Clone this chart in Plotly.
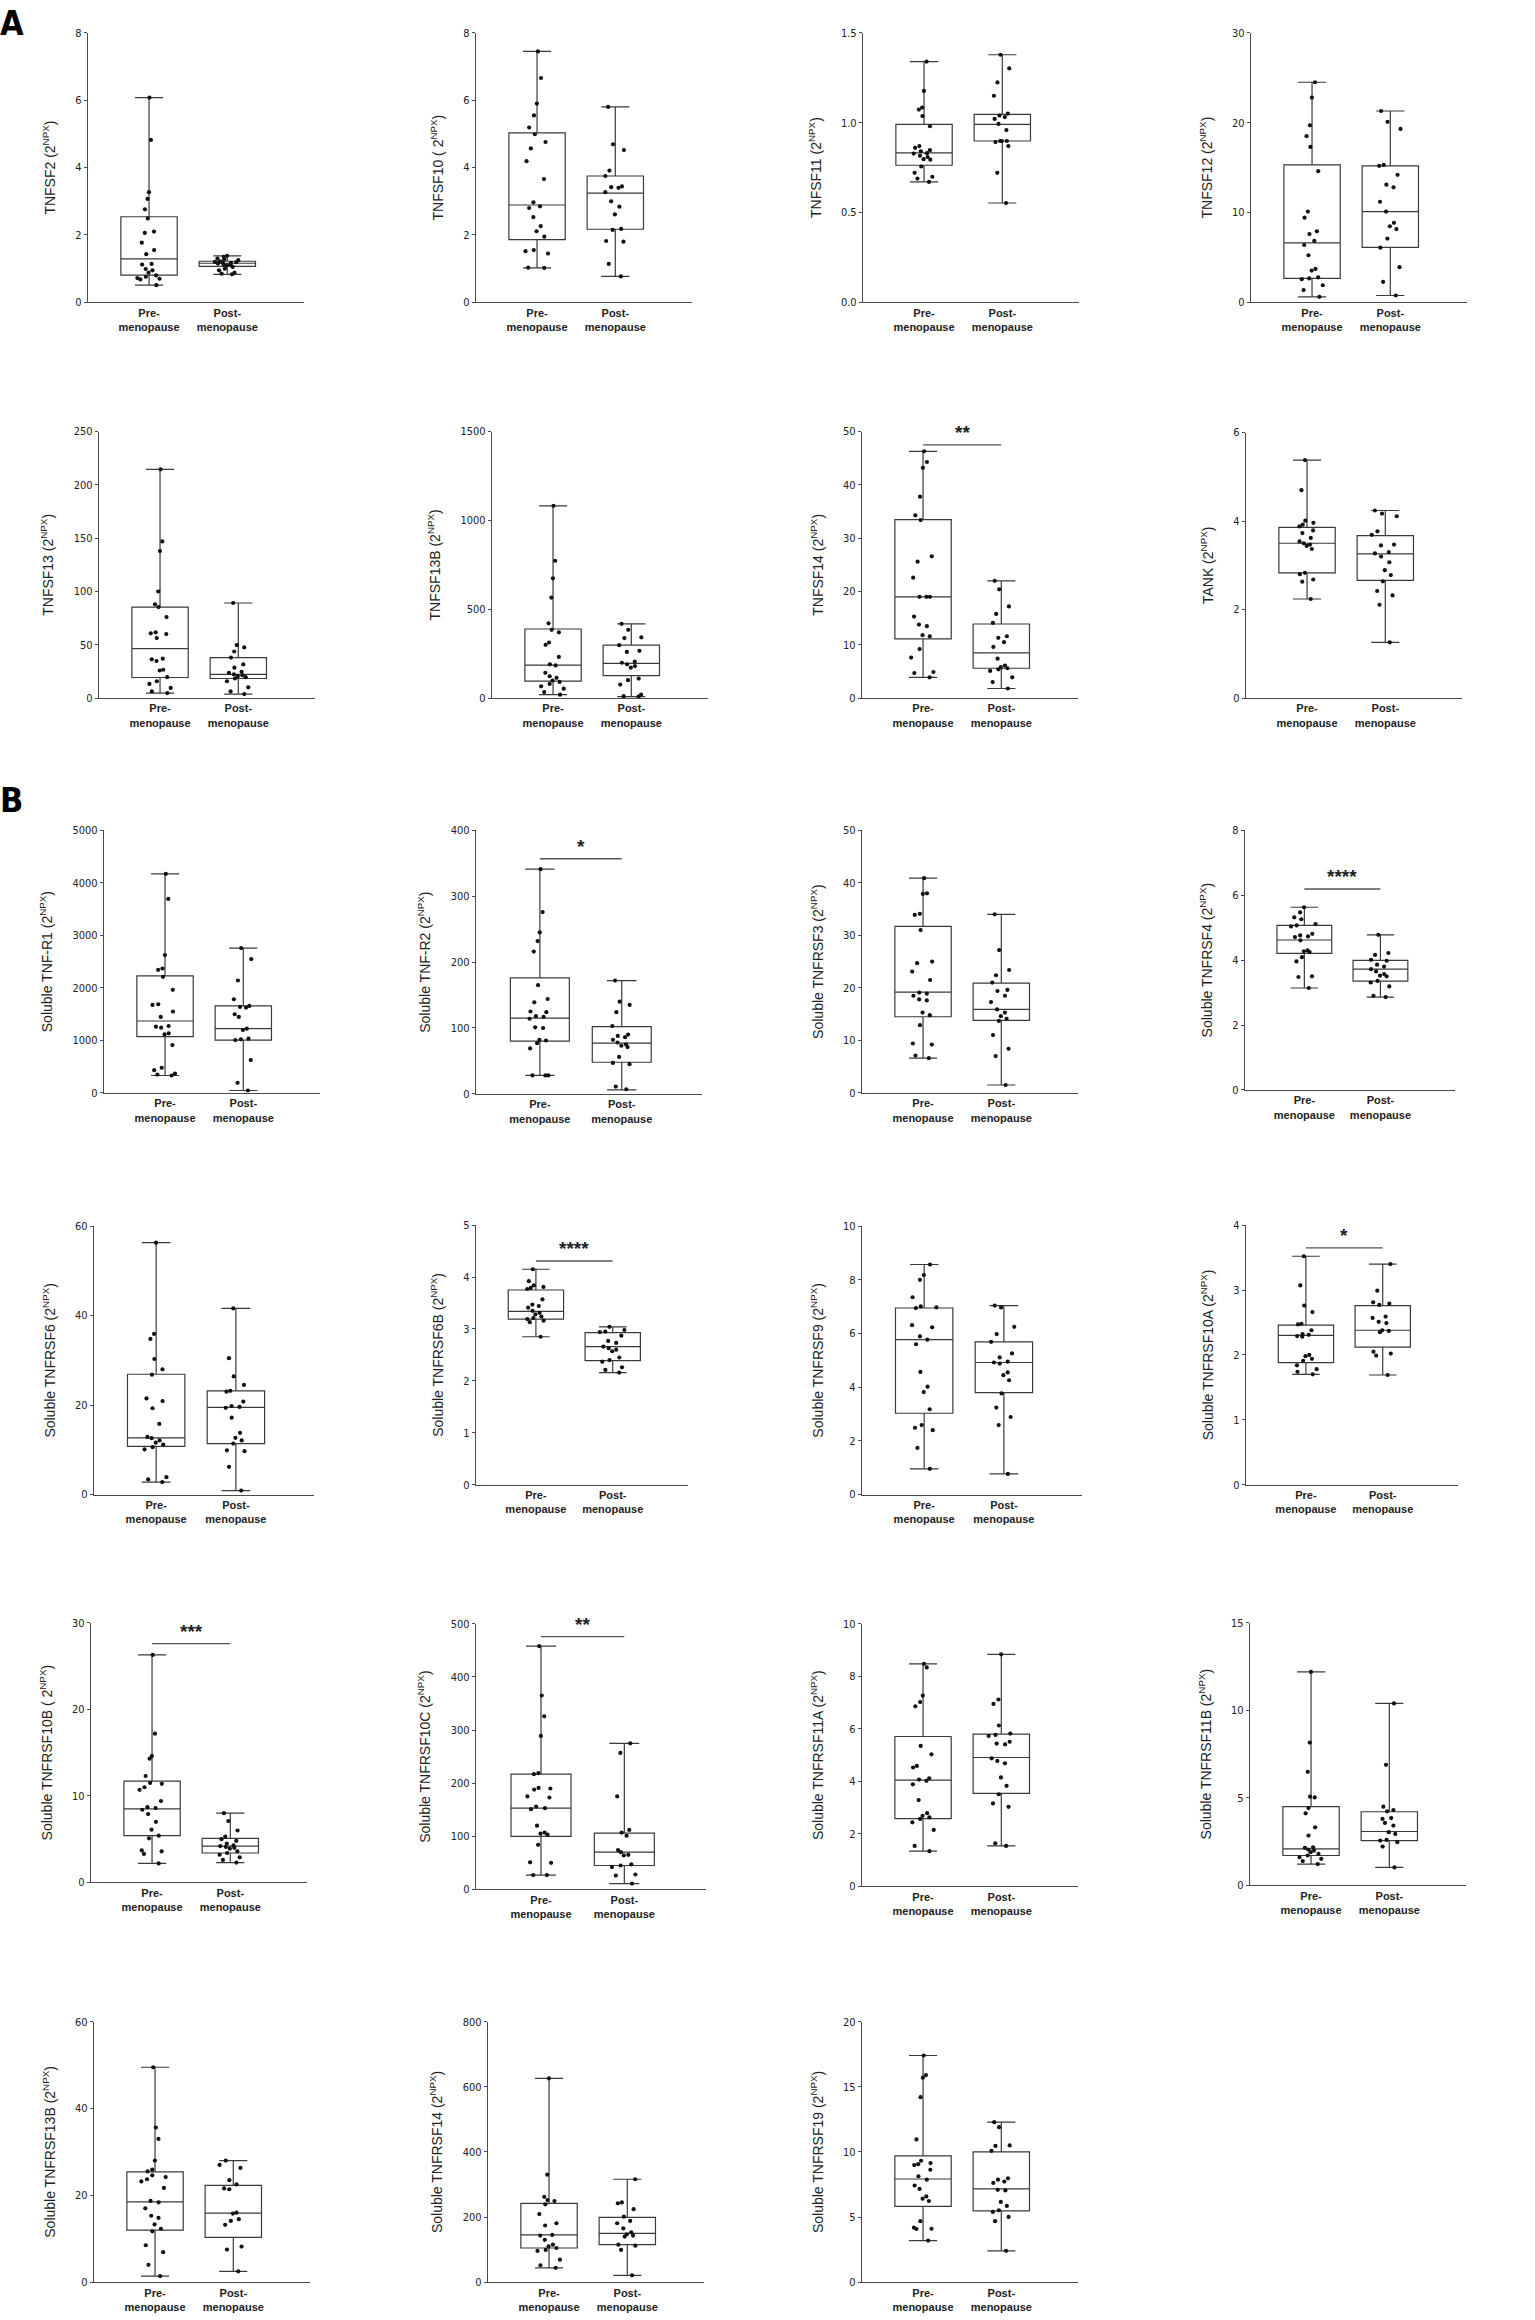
import plotly.graph_objects as go

# Values, all in 2^NPX units.
# *_box lists hold [min, q1, median, q3, max]; the other lists are the single samples.

tnfsf2_pre_box = [0.51, 0.81, 1.29, 2.54, 6.08]
tnfsf2_post_box = [0.83, 1.07, 1.16, 1.22, 1.38]
tnfsf2_pre = [6.08, 4.82, 3.27, 3.07, 2.76, 2.49, 2.10, 2.06, 1.77, 1.55, 1.43, 1.14, 1.12,
              0.99, 0.95, 0.88, 0.80, 0.76, 0.72, 0.70, 0.68, 0.51]
tnfsf2_post = [1.38, 1.35, 1.30, 1.28, 1.25, 1.22, 1.20, 1.19, 1.18, 1.17, 1.15, 1.13, 1.12,
               1.10, 1.05, 1.00, 0.95, 0.88, 0.85, 0.83]

tnfsf10_pre_box = [1.02, 1.86, 2.89, 5.03, 7.45]
tnfsf10_post_box = [0.77, 2.17, 3.24, 3.75, 5.80]
tnfsf10_pre = [7.45, 6.66, 5.90, 5.55, 5.19, 4.99, 4.76, 4.57, 4.19, 3.66, 2.97, 2.85, 2.80,
               2.53, 2.26, 2.11, 1.95, 1.55, 1.52, 1.45, 1.03, 1.02]
tnfsf10_post = [5.80, 4.69, 4.52, 3.91, 3.75, 3.44, 3.42, 3.40, 3.27, 3.00, 2.84, 2.61, 2.18,
                2.15, 1.82, 1.80, 1.14, 0.77]

tnfsf11_pre_box = [0.670, 0.763, 0.832, 0.991, 1.340]
tnfsf11_post_box = [0.553, 0.898, 0.991, 1.046, 1.378]
tnfsf11_pre = [1.340, 1.177, 1.084, 1.073, 1.037, 0.980, 0.870, 0.860, 0.847, 0.841, 0.830,
               0.828, 0.816, 0.809, 0.797, 0.794, 0.756, 0.721, 0.699, 0.689, 0.670]
tnfsf11_post = [1.378, 1.302, 1.224, 1.150, 1.050, 1.040, 1.031, 1.021, 0.993, 0.959, 0.898,
                0.898, 0.898, 0.892, 0.870, 0.721, 0.553]

tnfsf12_pre_box = [0.61, 2.66, 6.61, 15.3, 24.5]
tnfsf12_post_box = [0.76, 6.11, 10.1, 15.2, 21.3]
tnfsf12_pre = [24.5, 22.8, 19.7, 18.5, 17.3, 14.6, 10.1, 9.42, 7.9, 7.6, 6.84, 6.38, 5.24, 3.72,
               3.53, 2.77, 2.66, 2.58, 1.9, 1.37, 0.61]
tnfsf12_post = [21.3, 20.1, 19.3, 15.3, 15.2, 14.2, 13.1, 12.8, 11.2, 10.1, 8.85, 8.47, 8.16,
                7.1, 6.08, 3.91, 2.28, 0.76]

tnfsf13_pre_box = [4.7, 19.3, 46.5, 85.4, 214.6]
tnfsf13_post_box = [3.8, 18.4, 22.2, 38.0, 89.2]
tnfsf13_pre = [214.6, 147, 138, 100, 88, 85.4, 76, 61.7, 60.8, 60.1, 56.3, 37, 36.4, 34.8, 26.6,
               25.9, 19.6, 15.8, 13.3, 9.5, 6.3, 4.7]
tnfsf13_post = [89.2, 49.7, 47.5, 43.7, 38, 31.6, 28.5, 24.7, 23.7, 22.2, 21.5, 20.6, 19.6,
                18.4, 15.8, 10.1, 6.3, 3.8]

tnfsf13b_pre_box = [19, 95, 186, 389, 1082]
tnfsf13b_post_box = [8, 127, 196, 298, 418]
tnfsf13b_pre = [1082, 773, 674, 566, 421, 384, 370, 313, 300, 232, 190, 184, 142, 123, 114, 99,
                91, 80, 66, 53, 34, 19]
tnfsf13b_post = [418, 384, 342, 338, 298, 266, 260, 205, 199, 190, 180, 171, 110, 101, 76, 19,
                 11, 8]

tnfsf14_pre_box = [3.9, 11.1, 19.0, 33.5, 46.3]
tnfsf14_post_box = [1.8, 5.6, 8.5, 13.9, 22.0]
tnfsf14_pre = [46.3, 44.3, 43.2, 37.8, 34.3, 33.4, 26.6, 25.6, 22.6, 19.0, 19.0, 19.0, 15.3,
               13.8, 13.5, 11.8, 11.6, 9.2, 7.6, 4.9, 4.7, 3.9]
tnfsf14_post = [22.0, 20.4, 17.2, 15.8, 14.1, 11.6, 11.3, 10.5, 9.6, 7.4, 6.1, 5.8, 5.6, 5.4,
                5.1, 3.9, 3.0, 1.8]

tank_pre_box = [2.24, 2.83, 3.50, 3.86, 5.38]
tank_post_box = [1.26, 2.66, 3.26, 3.67, 4.24]
tank_pre = [5.38, 4.70, 4.01, 3.96, 3.92, 3.88, 3.79, 3.73, 3.62, 3.54, 3.50, 3.47, 3.44, 3.37,
            2.83, 2.80, 2.68, 2.63, 2.24]
tank_post = [4.24, 4.17, 4.11, 3.77, 3.69, 3.47, 3.45, 3.30, 3.27, 3.20, 3.07, 2.89, 2.78, 2.64,
             2.42, 2.32, 2.11, 1.26]

tnfr1_pre_box = [331, 1070, 1369, 2229, 4172]
tnfr1_post_box = [45, 1006, 1223, 1656, 2758]
tnfr1_pre = [4172, 3694, 2624, 2369, 2344, 2210, 1962, 1688, 1675, 1548, 1446, 1274, 1261, 1242,
             1134, 1115, 911, 478, 433, 369, 350, 331]
tnfr1_post = [2758, 2548, 2140, 1783, 1656, 1637, 1624, 1497, 1446, 1223, 1197, 1032, 1019, 1006,
              624, 191, 45]

tnfr2_pre_box = [28, 80, 115, 176, 341]
tnfr2_post_box = [6, 48, 77, 102, 172]
tnfr2_pre = [341, 276, 245, 232, 216, 165, 144, 139, 125, 124, 118, 117, 114, 101, 100, 82, 81,
             77, 69, 28, 28, 28]
tnfr2_post = [172, 140, 135, 124, 103, 90, 88, 86, 82, 78, 75, 73, 71, 56, 47, 45, 11, 7]

tnfrsf3_pre_box = [6.6, 14.5, 19.2, 31.7, 40.9]
tnfrsf3_post_box = [1.5, 13.8, 15.9, 20.9, 34.0]
tnfrsf3_pre = [40.9, 38.0, 37.9, 34.1, 33.9, 31.0, 25.0, 24.7, 23.1, 21.5, 19.1, 18.9, 18.5,
               17.8, 17.6, 15.3, 14.8, 12.9, 9.4, 9.2, 7.1, 6.6]
tnfrsf3_post = [34.0, 27.2, 23.4, 22.4, 21.0, 19.6, 19.4, 18.5, 17.3, 15.9, 15.3, 14.6, 14.1,
                13.7, 11.0, 8.4, 7.0, 1.5]

tnfrsf4_pre_box = [3.14, 4.21, 4.62, 5.07, 5.63]
tnfrsf4_post_box = [2.86, 3.35, 3.72, 3.99, 4.78]
tnfrsf4_pre = [5.63, 5.47, 5.32, 5.26, 5.11, 5.07, 5.04, 4.81, 4.76, 4.73, 4.71, 4.61, 4.30,
               4.27, 4.25, 4.09, 3.96, 3.50, 3.48, 3.14]
tnfrsf4_post = [4.78, 4.22, 4.16, 4.01, 3.98, 3.86, 3.80, 3.72, 3.65, 3.57, 3.52, 3.50, 3.36,
                3.31, 3.19, 2.90, 2.86]

tnfrsf6_pre_box = [2.8, 10.8, 12.7, 26.9, 56.3]
tnfrsf6_post_box = [0.9, 11.4, 19.5, 23.2, 41.6]
tnfrsf6_pre = [56.3, 35.9, 34.8, 30.3, 28.0, 26.8, 21.5, 20.9, 19.3, 15.8, 12.9, 12.6, 12.1,
               11.6, 11.2, 10.6, 10.1, 3.9, 3.4, 2.8]
tnfrsf6_post = [41.6, 30.5, 26.4, 24.5, 23.2, 23.0, 20.8, 19.8, 19.6, 19.4, 17.2, 13.8, 12.7,
                12.1, 11.4, 9.9, 9.7, 6.2, 0.9]

tnfrsf6b_pre_box = [2.85, 3.19, 3.34, 3.75, 4.15]
tnfrsf6b_post_box = [2.16, 2.39, 2.66, 2.93, 3.04]
tnfrsf6b_pre = [4.15, 3.92, 3.84, 3.81, 3.79, 3.77, 3.57, 3.47, 3.44, 3.41, 3.35, 3.31, 3.28,
                3.24, 3.21, 3.19, 3.16, 3.13, 2.85]
tnfrsf6b_post = [3.04, 2.98, 2.95, 2.94, 2.87, 2.77, 2.73, 2.66, 2.63, 2.60, 2.57, 2.45, 2.40,
                 2.37, 2.26, 2.21, 2.16]

tnfrsf9_pre_box = [0.96, 3.03, 5.77, 6.95, 8.57]
tnfrsf9_post_box = [0.77, 3.80, 4.92, 5.69, 7.04]
tnfrsf9_pre = [8.57, 8.18, 8.00, 7.35, 7.01, 6.97, 6.95, 6.31, 6.23, 5.89, 5.77, 5.60, 4.57,
               4.02, 3.82, 3.18, 2.59, 2.49, 2.40, 1.74, 0.96]
tnfrsf9_post = [7.04, 6.97, 6.25, 5.98, 5.69, 5.26, 5.11, 4.95, 4.92, 4.88, 4.55, 4.45, 4.26,
                3.77, 3.24, 2.89, 2.59, 0.77]

tnfrsf10a_pre_box = [1.70, 1.88, 2.30, 2.46, 3.52]
tnfrsf10a_post_box = [1.69, 2.12, 2.38, 2.76, 3.40]
tnfrsf10a_pre = [3.52, 3.07, 2.76, 2.66, 2.48, 2.47, 2.38, 2.32, 2.31, 2.29, 2.28, 2.00, 1.98,
                 1.94, 1.91, 1.84, 1.78, 1.74, 1.70]
tnfrsf10a_post = [3.40, 2.99, 2.81, 2.79, 2.77, 2.59, 2.57, 2.51, 2.49, 2.38, 2.37, 2.35, 2.05,
                  2.02, 1.99, 1.69]

tnfrsf10b_pre_box = [2.2, 5.4, 8.5, 11.7, 26.3]
tnfrsf10b_post_box = [2.3, 3.4, 4.2, 5.1, 8.0]
tnfrsf10b_pre = [26.3, 17.2, 14.6, 14.3, 12.3, 11.5, 11.4, 11.0, 10.7, 9.4, 8.7, 8.6, 8.4, 7.9,
                 7.0, 6.1, 5.4, 5.1, 3.7, 3.6, 3.3, 2.2]
tnfrsf10b_post = [8.0, 7.1, 6.0, 5.3, 5.0, 4.8, 4.5, 4.3, 4.2, 4.1, 4.0, 3.9, 3.6, 3.4, 3.2, 2.9,
                  2.6, 2.3]

tnfrsf10c_pre_box = [27, 100, 153, 217, 458]
tnfrsf10c_post_box = [11, 45, 70, 106, 275]
tnfrsf10c_pre = [458, 365, 326, 289, 219, 217, 191, 190, 188, 175, 173, 156, 153, 151, 120, 107,
                 105, 103, 84, 51, 50, 27, 27]
tnfrsf10c_post = [275, 257, 175, 112, 107, 101, 74, 70, 65, 64, 47, 45, 42, 28, 26, 11]

tnfrsf11a_pre_box = [1.34, 2.58, 4.05, 5.71, 8.48]
tnfrsf11a_post_box = [1.54, 3.54, 4.91, 5.80, 8.84]
tnfrsf11a_pre = [8.48, 8.34, 7.27, 7.02, 6.86, 5.35, 5.03, 4.59, 4.53, 4.12, 4.07, 4.02, 3.89,
                 3.29, 2.79, 2.69, 2.63, 2.57, 2.44, 2.15, 1.54, 1.34]
tnfrsf11a_post = [8.84, 7.12, 6.95, 6.13, 5.82, 5.77, 5.73, 5.51, 5.44, 5.41, 4.88, 4.78, 4.69,
                  4.15, 3.83, 3.51, 3.16, 3.03, 1.64, 1.54]

tnfrsf11b_pre_box = [1.22, 1.71, 2.09, 4.50, 12.2]
tnfrsf11b_post_box = [1.03, 2.56, 3.08, 4.21, 10.4]
tnfrsf11b_pre = [12.2, 8.16, 6.49, 5.07, 5.03, 4.42, 4.12, 3.32, 2.85, 2.18, 2.15, 2.05, 1.99,
                 1.90, 1.80, 1.71, 1.61, 1.52, 1.39, 1.22]
tnfrsf11b_post = [10.4, 6.89, 4.50, 4.31, 4.23, 3.85, 3.80, 3.57, 3.42, 3.04, 2.94, 2.60, 2.56,
                  2.47, 2.22, 1.03]

tnfrsf13b_pre_box = [1.4, 12.0, 18.5, 25.4, 49.5]
tnfrsf13b_post_box = [2.5, 10.3, 15.9, 22.3, 28.0]
tnfrsf13b_pre = [49.5, 35.6, 33.0, 28.0, 25.9, 25.5, 24.6, 24.2, 23.7, 23.2, 21.7, 18.7, 18.4,
                 17.0, 15.3, 14.8, 13.3, 12.3, 11.7, 8.5, 6.9, 4.0, 1.4]
tnfrsf13b_post = [28.0, 27.0, 26.3, 23.5, 22.5, 21.6, 21.4, 16.0, 15.8, 14.5, 14.1, 13.2, 8.2,
                  7.5, 2.5]

tnfrsf14_pre_box = [44, 105, 145, 242, 626]
tnfrsf14_post_box = [21, 115, 150, 199, 316]
tnfrsf14_pre = [626, 330, 262, 252, 249, 239, 209, 181, 174, 145, 143, 130, 115, 110, 105, 99,
                96, 69, 52, 44]
tnfrsf14_post = [316, 245, 242, 224, 201, 188, 181, 165, 153, 147, 143, 140, 115, 112, 99, 21]

tnfrsf19_pre_box = [3.19, 5.82, 7.92, 9.70, 17.4]
tnfrsf19_post_box = [2.41, 5.47, 7.16, 10.0, 12.28]
tnfrsf19_pre = [17.4, 15.9, 15.7, 14.2, 10.96, 9.32, 9.14, 9.06, 8.99, 8.63, 8.13, 7.87, 7.42,
                7.16, 6.58, 6.41, 6.23, 4.68, 4.18, 4.10, 4.08, 3.19]
tnfrsf19_post = [12.28, 11.9, 10.5, 10.46, 10.08, 7.97, 7.87, 7.72, 7.62, 7.09, 7.04, 6.16,
                 5.85, 5.52, 5.39, 5.01, 4.68, 2.41]

groups = ["<b>Pre-</b><br><b>menopause</b>", "<b>Post-</b><br><b>menopause</b>"]
npx = "(2<sup>NPX</sup>)"

# (y-axis title, axis max, tick step, pre box, post box, pre points, post points)
panels = [
    ("TNFSF2 " + npx, 8, 2, tnfsf2_pre_box, tnfsf2_post_box, tnfsf2_pre, tnfsf2_post),
    ("TNFSF10 ( 2<sup>NPX</sup>)", 8, 2, tnfsf10_pre_box, tnfsf10_post_box, tnfsf10_pre, tnfsf10_post),
    ("TNFSF11 " + npx, 1.5, 0.5, tnfsf11_pre_box, tnfsf11_post_box, tnfsf11_pre, tnfsf11_post),
    ("TNFSF12 " + npx, 30, 10, tnfsf12_pre_box, tnfsf12_post_box, tnfsf12_pre, tnfsf12_post),
    ("TNFSF13 " + npx, 250, 50, tnfsf13_pre_box, tnfsf13_post_box, tnfsf13_pre, tnfsf13_post),
    ("TNFSF13B " + npx, 1500, 500, tnfsf13b_pre_box, tnfsf13b_post_box, tnfsf13b_pre, tnfsf13b_post),
    ("TNFSF14 " + npx, 50, 10, tnfsf14_pre_box, tnfsf14_post_box, tnfsf14_pre, tnfsf14_post),
    ("TANK " + npx, 6, 2, tank_pre_box, tank_post_box, tank_pre, tank_post),
    ("Soluble TNF-R1 " + npx, 5000, 1000, tnfr1_pre_box, tnfr1_post_box, tnfr1_pre, tnfr1_post),
    ("Soluble TNF-R2 " + npx, 400, 100, tnfr2_pre_box, tnfr2_post_box, tnfr2_pre, tnfr2_post),
    ("Soluble TNFRSF3 " + npx, 50, 10, tnfrsf3_pre_box, tnfrsf3_post_box, tnfrsf3_pre, tnfrsf3_post),
    ("Soluble TNFRSF4 " + npx, 8, 2, tnfrsf4_pre_box, tnfrsf4_post_box, tnfrsf4_pre, tnfrsf4_post),
    ("Soluble TNFRSF6 " + npx, 60, 20, tnfrsf6_pre_box, tnfrsf6_post_box, tnfrsf6_pre, tnfrsf6_post),
    ("Soluble TNFRSF6B " + npx, 5, 1, tnfrsf6b_pre_box, tnfrsf6b_post_box, tnfrsf6b_pre, tnfrsf6b_post),
    ("Soluble TNFRSF9 " + npx, 10, 2, tnfrsf9_pre_box, tnfrsf9_post_box, tnfrsf9_pre, tnfrsf9_post),
    ("Soluble TNFRSF10A " + npx, 4, 1, tnfrsf10a_pre_box, tnfrsf10a_post_box, tnfrsf10a_pre, tnfrsf10a_post),
    ("Soluble TNFRSF10B ( 2<sup>NPX</sup>)", 30, 10, tnfrsf10b_pre_box, tnfrsf10b_post_box, tnfrsf10b_pre, tnfrsf10b_post),
    ("Soluble TNFRSF10C " + npx, 500, 100, tnfrsf10c_pre_box, tnfrsf10c_post_box, tnfrsf10c_pre, tnfrsf10c_post),
    ("Soluble TNFRSF11A " + npx, 10, 2, tnfrsf11a_pre_box, tnfrsf11a_post_box, tnfrsf11a_pre, tnfrsf11a_post),
    ("Soluble TNFRSF11B " + npx, 15, 5, tnfrsf11b_pre_box, tnfrsf11b_post_box, tnfrsf11b_pre, tnfrsf11b_post),
    ("Soluble TNFRSF13B " + npx, 60, 20, tnfrsf13b_pre_box, tnfrsf13b_post_box, tnfrsf13b_pre, tnfrsf13b_post),
    ("Soluble TNFRSF14 " + npx, 800, 200, tnfrsf14_pre_box, tnfrsf14_post_box, tnfrsf14_pre, tnfrsf14_post),
    ("Soluble TNFRSF19 " + npx, 20, 5, tnfrsf19_pre_box, tnfrsf19_post_box, tnfrsf19_pre, tnfrsf19_post),
]

# significance bars: panel index -> (stars, bar height in data units)
sig_marks = {6: ("**", 47.5), 9: ("*", 357), 11: ("****", 6.19), 13: ("****", 4.31),
             15: ("*", 3.65), 16: ("***", 27.6), 17: ("**", 476)}

# plot rectangles in page pixels: (left, axis length, top, bottom)
W, H = 1535, 2320
cols = [88, 476, 863, 1251]
rects = [
    (cols[0], 216, 27, 298), (cols[1], 216, 27, 298), (cols[2], 216, 27, 298), (cols[3], 216, 27, 298),
    (cols[0] + 11, 216, 428, 696), (cols[1] + 16, 216, 428, 696), (cols[2] - 1, 216, 428, 696), (cols[3] - 5, 216, 429, 696),
    (cols[0] + 16, 216, 829, 1093), (cols[1], 226, 829, 1094), (cols[2] - 1, 216, 829, 1093), (cols[3] - 6, 210, 829, 1090),
    (cols[0] + 6, 220, 1227, 1497), (cols[1], 212, 1226, 1487), (cols[2] - 1, 220, 1227, 1497), (cols[3] - 5, 212, 1226, 1487),
    (cols[0] + 3, 216, 1626, 1887), (cols[1], 230, 1627, 1894), (cols[2] - 1, 216, 1627, 1891), (cols[3] - 1, 216, 1626, 1890),
    (cols[0] + 6, 216, 2027, 2289), (cols[1] + 12, 216, 2027, 2289), (cols[2] - 1, 216, 2027, 2289),
]

narrow = "Liberation Sans Narrow, DejaVu Sans Condensed, Arial Narrow, Liberation Sans, sans-serif"
plain = "Liberation Sans, Arial, sans-serif"
axis_col = "#4a4a4a"
box_col = "#3a3a3a"

fig = go.Figure()

for i, (title, ymax, step, pre_box, post_box, pre_pts, post_pts) in enumerate(panels):
    n = "" if i == 0 else str(i + 1)
    xa, ya = "x" + n, "y" + n
    stats = list(zip(pre_box, post_box))  # min, q1, med, q3, max for both groups

    fig.add_trace(go.Box(
        x=[0, 1], lowerfence=list(stats[0]), q1=list(stats[1]), median=list(stats[2]),
        q3=list(stats[3]), upperfence=list(stats[4]),
        width=0.72, whiskerwidth=0.5, fillcolor="white",
        line=dict(color=box_col, width=1.2), boxpoints=False,
        xaxis=xa, yaxis=ya, showlegend=False, hoverinfo="skip"
    ))
    for pos, pts in ((0, pre_pts), (1, post_pts)):
        fig.add_trace(go.Box(
            y=pts, x0=pos, width=0.72, boxpoints="all", jitter=0.5, pointpos=0,
            fillcolor="rgba(0,0,0,0)", line=dict(width=0, color="rgba(0,0,0,0)"),
            marker=dict(size=4.2, color="#111111"),
            xaxis=xa, yaxis=ya, showlegend=False, hoverinfo="y"
        ))

    left, length, top, bottom = rects[i]
    fig.layout["xaxis" + n] = dict(
        domain=[left / W, (left + length) / W], anchor=ya, range=[-0.78, 1.98],
        tickvals=[0, 1], ticktext=groups, ticks="", tickangle=0,
        showline=True, linecolor=axis_col, linewidth=1.3,
        showgrid=False, zeroline=False, fixedrange=True,
        tickfont=dict(family=plain, size=11, color="#222222")
    )
    fig.layout["yaxis" + n] = dict(
        domain=[1 - bottom / H, 1 - top / H], anchor=xa, range=[0, ymax],
        tick0=0, dtick=step, tickformat=".1f" if step < 1 else "d",
        ticks="outside", ticklen=3, tickcolor=axis_col, showline=True,
        linecolor=axis_col, linewidth=1.3, showgrid=False, zeroline=False,
        tickfont=dict(family=narrow, size=11, color="#222222"),
        title=dict(text=title, standoff=16, font=dict(family=plain, size=14, color="#222222"))
    )

    if i in sig_marks:
        stars, level = sig_marks[i]
        fig.add_shape(type="line", xref=xa, yref=ya, x0=0, x1=1, y0=level, y1=level,
                      line=dict(color="#555555", width=1.4))
        fig.add_annotation(x=0.5, y=level, xref=xa, yref=ya, text="<b>" + stars + "</b>",
                           showarrow=False, yanchor="bottom", yshift=0,
                           font=dict(family=plain, size=19, color="#222222"))

# panel letters
for letter, ypix in (("A", -5), ("B", 776)):
    fig.add_annotation(x=0, y=1 - ypix / H, xref="paper", yref="paper", text="<b>" + letter + "</b>",
                       showarrow=False, xanchor="left", yanchor="top", xshift=-2,
                       font=dict(family=narrow, size=34, color="#000000"))

fig.update_layout(
    width=W, height=H, margin=dict(l=0, r=0, t=0, b=0),
    paper_bgcolor="white", plot_bgcolor="white",
    boxmode="overlay", showlegend=False
)

# drop the browser's default body margin so the page is exactly W x H
fig.write_html("out.html", config={"displayModeBar": False},
               post_script="document.body.style.margin='0';")
